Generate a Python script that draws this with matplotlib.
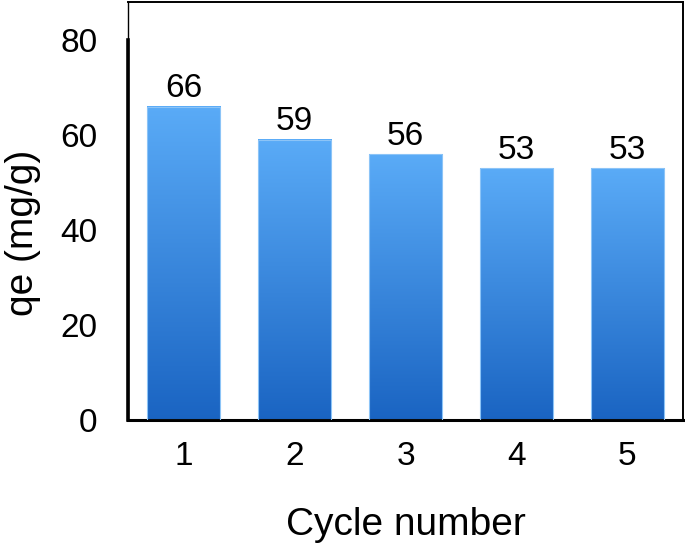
import matplotlib
matplotlib.use("Agg")
import matplotlib.pyplot as plt
import numpy as np
from matplotlib.colors import LinearSegmentedColormap

plt.rcParams['font.family'] = ['Liberation Sans', 'DejaVu Sans']

cycles = [1, 2, 3, 4, 5]
qe = [66, 59, 56, 53, 53]
bar_labels = ['66', '59', '56', '53', '53']
y_ticks = [0, 20, 40, 60, 80]

grad = LinearSegmentedColormap.from_list('blues', ['#1a64c2', '#5aabf7'])

fig = plt.figure(figsize=(6.85, 5.44), dpi=100)
ax = fig.add_axes([0.187, 0.228, 0.81, 0.768])

bars = ax.bar(cycles, qe, width=0.66, color='none', edgecolor='#8cc4f7', linewidth=0.8, zorder=3)
g = np.linspace(0, 1, 256).reshape(-1, 1)
for b in bars:
    x0, y0 = b.get_x(), b.get_y()
    w, h = b.get_width(), b.get_height()
    ax.imshow(g, cmap=grad, origin='lower', aspect='auto',
              extent=[x0, x0 + w, y0, y0 + h], zorder=2)

for x, v, lab in zip(cycles, qe, bar_labels):
    ax.text(x, v + 2.0, lab, ha='center', va='baseline', fontsize=24)

ax.set_xlim(0.5, 5.5)
ax.set_ylim(0, 88)
ax.set_xticks(cycles)
ax.set_yticks(y_ticks)
ax.tick_params(length=0, labelsize=24)
ax.tick_params(axis='x', pad=15)
ax.tick_params(axis='y', pad=22)

for s in ['top', 'right']:
    ax.spines[s].set_linewidth(1.4)
ax.spines['left'].set_linewidth(1.0)
ax.spines['bottom'].set_linewidth(2.2)
ax.plot([0.5, 0.5], [0, 80], color='black', lw=2.6, clip_on=False, zorder=5)

ax.set_xlabel('Cycle number', fontsize=28)
ax.set_ylabel('qe (mg/g)', fontsize=28)
ax.xaxis.set_label_coords(0.5, -0.209)
ax.yaxis.set_label_coords(-0.157, 0.447)

fig.savefig('out.png', dpi=100)
